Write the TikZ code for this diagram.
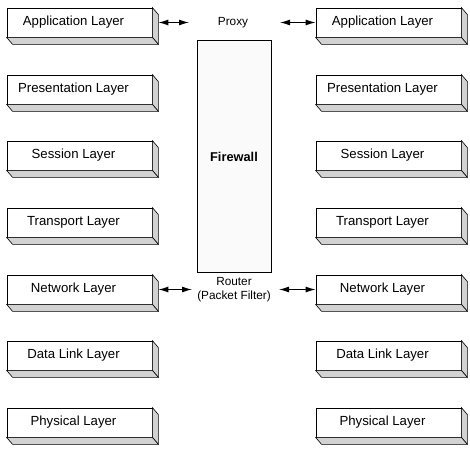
\documentclass[tikz,border=0pt]{standalone}
\usepackage{fontspec}
\setmainfont{Liberation Sans}
\usepackage{tikz}
\usetikzlibrary{positioning,arrows.meta}

\begin{document}
\begin{tikzpicture}[x=1pt,y=-1pt,
			layer/.style={rectangle, draw=black, line width=0.8pt, fill=white, minimum width=145pt, minimum height=29pt, inner sep=0pt, font=\fontsize{13.2}{15}\selectfont, execute at end node=\hspace*{12pt}},
			depth/.style={draw=black, line width=0.6pt, fill=gray!35},
			wall/.style={rectangle, draw=black, line width=1pt, fill=gray!4, minimum width=74pt, minimum height=231pt, font=\bfseries\fontsize{12.8}{14}\selectfont},
			tag/.style={align=center, inner sep=1pt, font=\fontsize{11.8}{13.8}\selectfont},
			link/.style={line width=1.1pt, {Latex[length=10pt,width=6pt]}-{Latex[length=10pt,width=6pt]}},
			]
			\useasboundingbox (0,0) rectangle (470,449);
			%Nodes
				\node[layer]		(appL)		at (79.5,22.5)		{Application Layer};
				\node[layer]		(preL)		at (79.5,89.5)		{Presentation Layer};
				\node[layer]		(sesL)		at (79.5,155.5)		{Session Layer};
				\node[layer]		(traL)		at (79.5,222.5)		{Transport Layer};
				\node[layer]		(netL)		at (79.5,289.5)		{Network Layer};
				\node[layer]		(datL)		at (79.5,355.5)		{Data Link Layer};
				\node[layer]		(phyL)		at (79.5,422.5)		{Physical Layer};
				\node[layer]		(appR)		at (388.5,22.5)		{Application Layer};
				\node[layer]		(preR)		at (388.5,89.5)		{Presentation Layer};
				\node[layer]		(sesR)		at (388.5,155.5)	{Session Layer};
				\node[layer]		(traR)		at (388.5,222.5)	{Transport Layer};
				\node[layer]		(netR)		at (388.5,289.5)	{Network Layer};
				\node[layer]		(datR)		at (388.5,355.5)	{Data Link Layer};
				\node[layer]		(phyR)		at (388.5,422.5)	{Physical Layer};
				\node[wall]			(firewall)	at (234,156.5)		{Firewall};
				\node[tag]			(proxy)		at (233,22.5)		{Proxy};
				\node[tag]			(router)	at (234,290)		{Router\\(Packet Filter)};
				\coordinate			(pxL)		at (189,22.5);
				\coordinate			(pxR)		at (280,22.5);
				\coordinate			(rtL)		at (192,289.5);
				\coordinate			(rtR)		at (279,289.5);

			%Depth faces
				\foreach \n in {appL,preL,sesL,traL,netL,datL,phyL,appR,preR,sesR,traR,netR,datR,phyR}{
					\filldraw[depth] (\n.north east) -- ++(6,7) -- ([shift={(6,7)}]\n.south east) -- (\n.south east) -- cycle;
					\filldraw[depth] (\n.south west) -- ++(6,7) -- ([shift={(6,7)}]\n.south east) -- (\n.south east) -- cycle;
				}

			%Lines
				\draw[link] ([xshift=6pt]appL.east) -- (pxL);
				\draw[link] (pxR) -- (appR.west);
				\draw[link] ([xshift=6pt]netL.east) -- (rtL);
				\draw[link] (rtR) -- (netR.west);
		\end{tikzpicture}
\end{document}
